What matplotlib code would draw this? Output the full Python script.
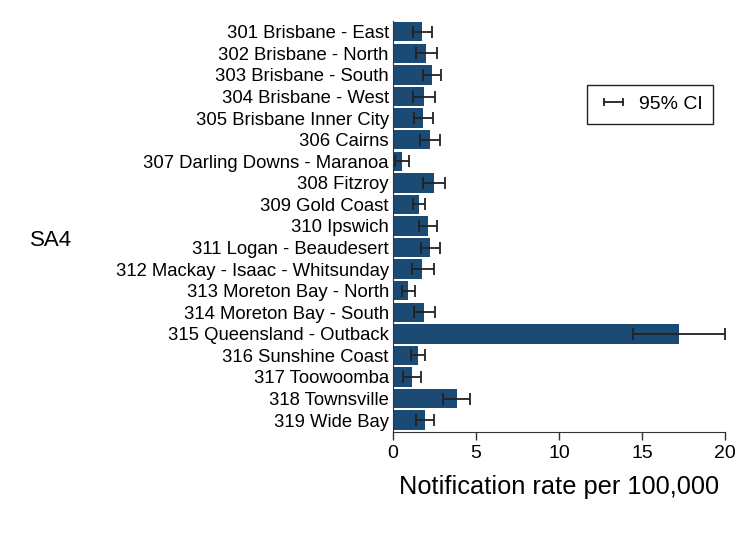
import matplotlib
matplotlib.use('Agg')
import matplotlib.pyplot as plt
from matplotlib.lines import Line2D
import numpy as np

plt.rcParams['font.family'] = ['Liberation Sans', 'DejaVu Sans']

# SA4 regions, top to bottom
regions = ['301 Brisbane - East', '302 Brisbane - North', '303 Brisbane - South',
           '304 Brisbane - West', '305 Brisbane Inner City', '306 Cairns',
           '307 Darling Downs - Maranoa', '308 Fitzroy', '309 Gold Coast',
           '310 Ipswich', '311 Logan - Beaudesert', '312 Mackay - Isaac - Whitsunday',
           '313 Moreton Bay - North', '314 Moreton Bay - South',
           '315 Queensland - Outback', '316 Sunshine Coast', '317 Toowoomba',
           '318 Townsville', '319 Wide Bay']
rate = [1.77, 2.0, 2.35, 1.87, 1.81, 2.23, 0.52, 2.45, 1.57,
        2.11, 2.23, 1.77, 0.9, 1.87, 17.2, 1.51, 1.13, 3.84, 1.91]
ci_low = [1.2, 1.37, 1.81, 1.2, 1.25, 1.61, 0.14, 1.81, 1.2,
          1.57, 1.71, 1.14, 0.52, 1.25, 14.46, 1.07, 0.6, 3.01, 1.39]
ci_high = [2.35, 2.65, 2.91, 2.55, 2.41, 2.85, 0.96, 3.13, 1.91,
           2.67, 2.81, 2.45, 1.31, 2.55, 20.0, 1.93, 1.71, 4.66, 2.45]

bar_color = '#1b4a74'
err_color = '#222222'

fig = plt.figure(figsize=(7.5, 5.39), dpi=100)
ax = fig.add_axes([393/750, 1-432/539, (725-393)/750, (432-21)/539])

y = np.arange(len(regions))
rate = np.array(rate)
err = [rate - np.array(ci_low), np.array(ci_high) - rate]

ax.barh(y, rate, height=0.9, color=bar_color, edgecolor='none')
eb = ax.errorbar(rate, y, xerr=err, fmt='none', ecolor=err_color,
                 elinewidth=1.3, capsize=4, capthick=1.3)
# don't clip the outback CI that ends right at 20
for part in eb.lines[1] + eb.lines[2]:
    part.set_clip_on(False)

ax.set_ylim(len(regions) - 0.45, -0.5)
ax.set_xlim(0, 20)
ax.set_yticks(y)
ax.set_yticklabels(regions, fontsize=13.3)
ax.tick_params(axis='y', length=0, pad=3)
ax.set_xticks([0, 5, 10, 15, 20])
ax.tick_params(axis='x', labelsize=14, length=6, width=1, color='#333333', pad=3)

for s in ['top', 'right']:
    ax.spines[s].set_visible(False)
ax.spines['left'].set_color('#333333')
ax.spines['bottom'].set_color('#333333')

ax.set_xlabel('Notification rate per 100,000', fontsize=18.3, labelpad=10)
fig.text(51/750, 1-241/539, 'SA4', fontsize=16, ha='center', va='center')

# legend entry: horizontal line with end caps
ci_handle = Line2D([], [], color=err_color, linewidth=1.3, marker='|',
                   markersize=6, markeredgewidth=1.3)
leg = ax.legend([ci_handle], ['95% CI'], numpoints=2, loc='upper right',
                bbox_to_anchor=(713/750, 1-85/539),
                bbox_transform=fig.transFigure, borderaxespad=0,
                fancybox=False, edgecolor='#222222', fontsize=14,
                handlelength=1.6, handletextpad=0.5, borderpad=0.55,
                framealpha=1)
leg.get_frame().set_linewidth(1)

fig.savefig('out.png', dpi=100)
